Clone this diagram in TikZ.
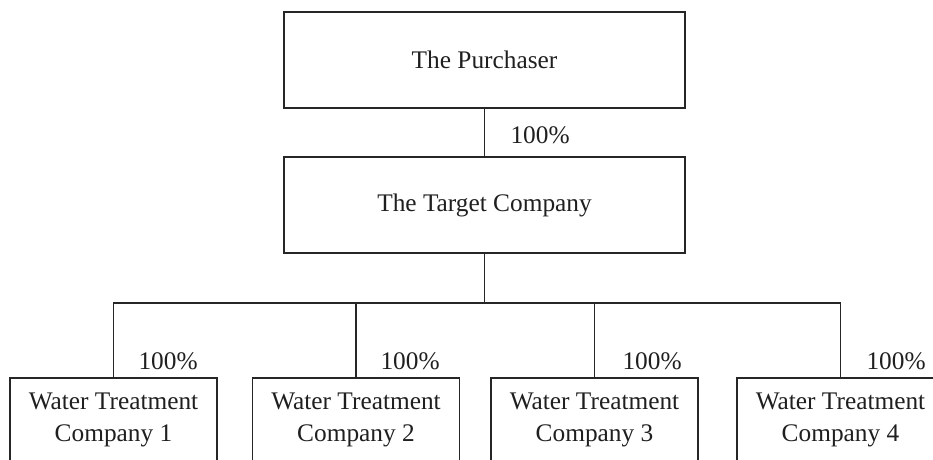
\documentclass[tikz,border=0pt]{standalone}
\usepackage{fontspec}
\setmainfont{Liberation Serif}
\begin{document}
\begin{tikzpicture}[x=0.75pt,y=-0.75pt,
  line width=0.8pt,
  txt/.style={font=\fontsize{19}{24}\selectfont, text=black!88},
  bigbox/.style={txt, draw=black!85, line width=0.8pt, inner sep=0pt,
    minimum width=300.75pt, minimum height=72pt},
  subbox/.style={txt, draw=black!85, line width=0.8pt, inner sep=0pt, align=center,
    minimum width=155.25pt, minimum height=63pt},
  lab/.style={txt, inner sep=0pt, anchor=base west},
  conn/.style={draw=black!85, line width=0.8pt}]
\useasboundingbox (0,0) rectangle (933,460);
\clip (0,0) rectangle (933,460);
\node[bigbox] (P) at (484.5,60) {The Purchaser};
\node[bigbox] (T) at (484.5,205) {The Target Company};
\node[subbox] (C1) at (113.5,420) {Water Treatment\\Company 1};
\node[subbox] (C2) at (356,420) {Water Treatment\\Company 2};
\node[subbox] (C3) at (594.5,420) {Water Treatment\\Company 3};
\node[subbox] (C4) at (840.5,420) {Water Treatment\\Company 4};
\coordinate (bar) at (484.5,303);
\draw[conn] (P.south) -- (T.north);
\draw[conn] (T.south) -- (bar);
\draw[conn] (C1.north) |- (bar) -| (C4.north);
\draw[conn] (C2.north) -- (C2.north |- bar);
\draw[conn] (C3.north) -- (C3.north |- bar);
\node[lab] (l0) at (510,143) {100\%};
\node[lab] (l1) at (138,369) {100\%};
\node[lab] (l2) at (380,369) {100\%};
\node[lab] (l3) at (622,369) {100\%};
\node[lab] (l4) at (866,369) {100\%};
\end{tikzpicture}
\end{document}
